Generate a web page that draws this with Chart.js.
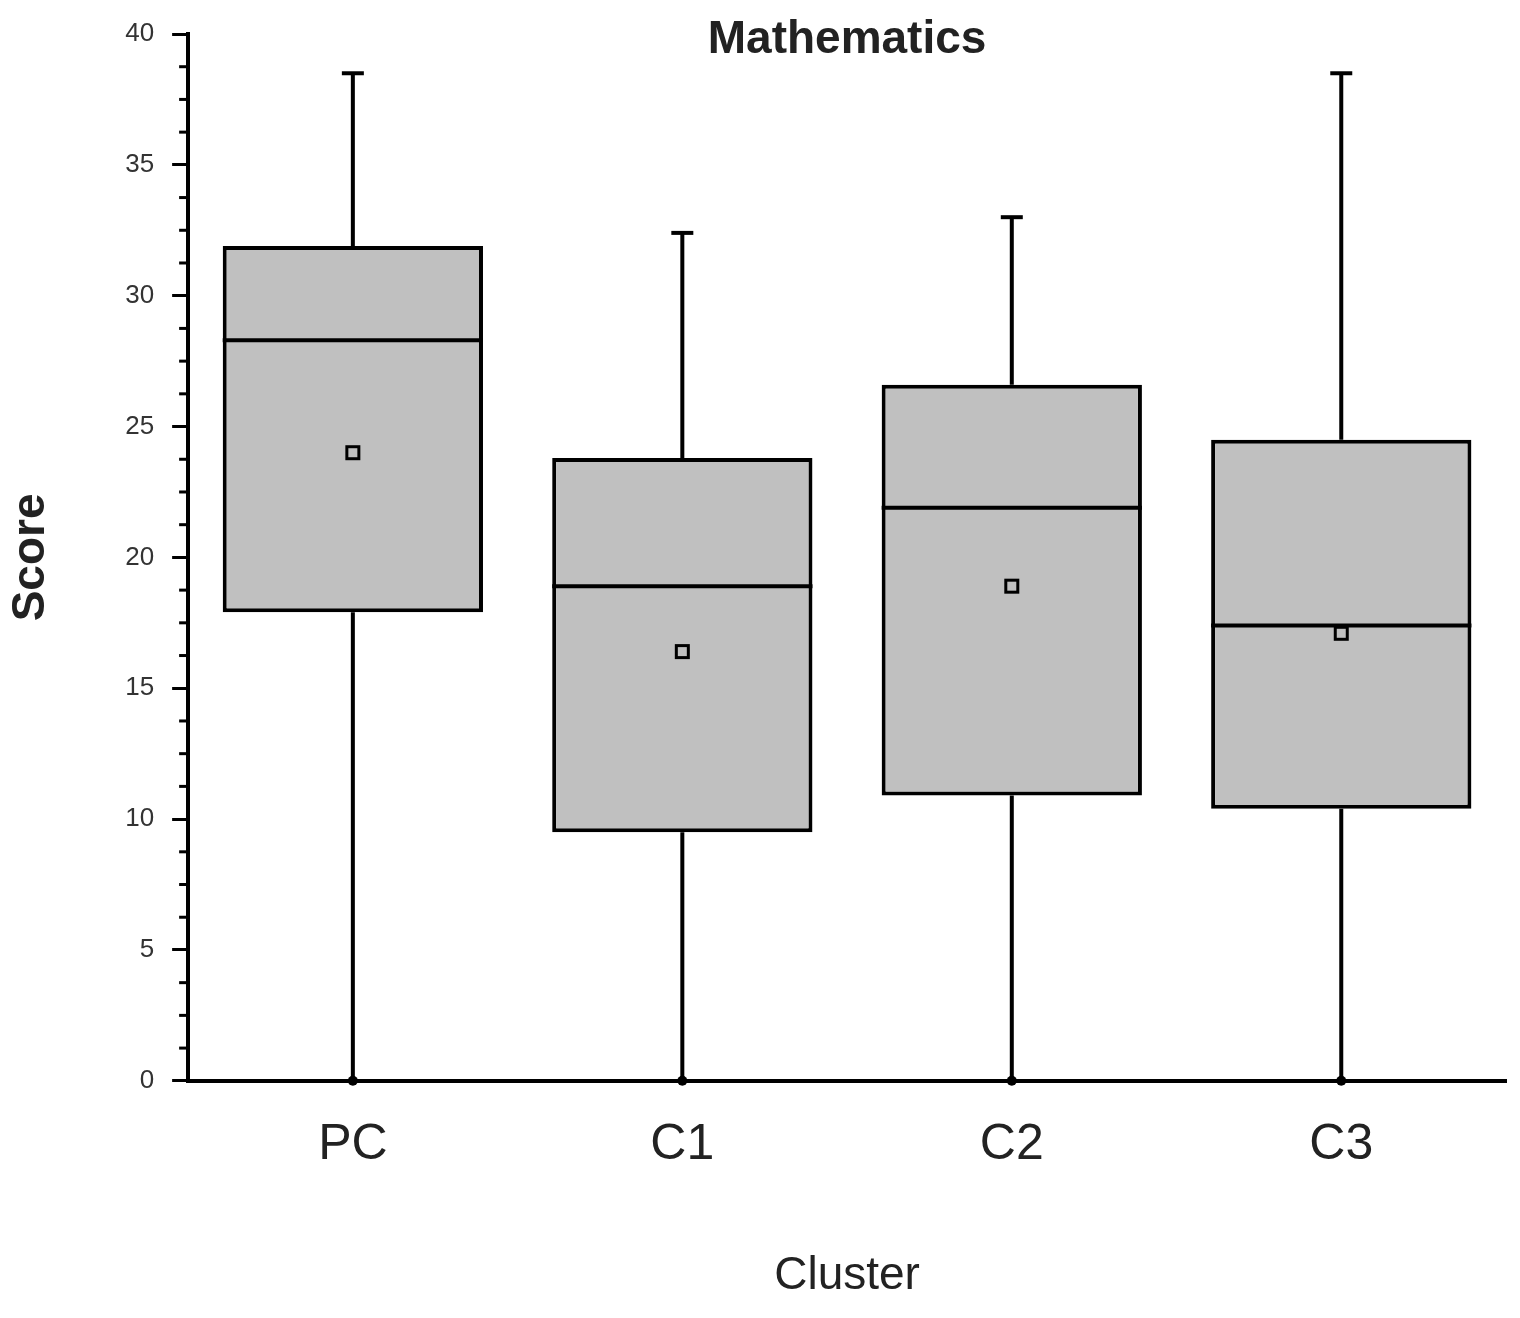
<!DOCTYPE html>
<html>
<head>
<meta charset="utf-8">
<script src="https://cdn.jsdelivr.net/npm/chart.js@4"></script>
<style>
  body { margin: 0; background: #fff; }
  #wrap { width: 1520px; height: 1318px; }
</style>
</head>
<body>
<div id="wrap"><canvas id="boxChart" width="1520" height="1318"></canvas></div>
<script>
const clusters = ['PC', 'C1', 'C2', 'C3'];
const mins    = [0, 0, 0, 0];
const q1s     = [17.9, 9.5, 10.9, 10.4];
const medians = [28.3, 18.9, 21.9, 17.4];
const q3s     = [31.9, 23.8, 26.6, 24.5];
const maxs    = [38.5, 32.4, 33.0, 38.5];
const means   = [24.0, 16.4, 18.9, 17.1];
const chartTitle = 'Mathematics';

// whiskers, medians, means, minor ticks and the title over the plot area
const boxExtras = {
  id: 'boxExtras',
  beforeDatasetsDraw(chart) {
    const { ctx, scales: { x, y } } = chart;
    ctx.save();
    ctx.strokeStyle = '#000';
    ctx.lineWidth = 4;
    clusters.forEach((c, i) => {
      const cx = x.getPixelForValue(i);
      ctx.beginPath();
      ctx.moveTo(cx, y.getPixelForValue(mins[i]));
      ctx.lineTo(cx, y.getPixelForValue(q1s[i]));
      ctx.moveTo(cx, y.getPixelForValue(q3s[i]));
      ctx.lineTo(cx, y.getPixelForValue(maxs[i]));
      ctx.stroke();
    });
    ctx.restore();
  },
  afterDatasetsDraw(chart) {
    const { ctx, chartArea, scales: { x, y } } = chart;
    const meta = chart.getDatasetMeta(0);
    ctx.save();
    ctx.strokeStyle = '#000';
    ctx.fillStyle = '#000';
    clusters.forEach((c, i) => {
      const cx = x.getPixelForValue(i);
      const half = meta.data[i].width / 2;
      ctx.lineWidth = 4;
      ctx.beginPath();
      const my = y.getPixelForValue(medians[i]);
      ctx.moveTo(cx - half, my);
      ctx.lineTo(cx + half, my);
      ctx.stroke();
      const ty = y.getPixelForValue(maxs[i]);
      ctx.beginPath();
      ctx.moveTo(cx - 11, ty);
      ctx.lineTo(cx + 11, ty);
      ctx.stroke();
      ctx.beginPath();
      ctx.arc(cx, y.getPixelForValue(mins[i]), 5, 0, Math.PI * 2);
      ctx.fill();
      const ey = y.getPixelForValue(means[i]);
      ctx.lineWidth = 3;
      ctx.strokeRect(cx - 6, ey - 6, 12, 12);
    });
    ctx.lineWidth = 3;
    for (let v = 0; v <= 40; v += 1.25) {
      if (v % 5 === 0) continue;
      const py = y.getPixelForValue(v);
      ctx.beginPath();
      ctx.moveTo(chartArea.left - 9, py);
      ctx.lineTo(chartArea.left, py);
      ctx.stroke();
    }
    ctx.fillStyle = '#222';
    ctx.font = 'bold 46px "Liberation Sans"';
    ctx.textAlign = 'center';
    ctx.textBaseline = 'middle';
    ctx.fillText(chartTitle, (chartArea.left + chartArea.right) / 2, 40);
    ctx.restore();
  }
};

new Chart(document.getElementById('boxChart'), {
  type: 'bar',
  data: {
    labels: clusters,
    datasets: [{
      data: clusters.map((c, i) => [q1s[i], q3s[i]]),
      backgroundColor: '#c0c0c0',
      borderColor: '#000',
      borderWidth: 4,
      borderSkipped: false,
      categoryPercentage: 0.79,
      barPercentage: 1
    }]
  },
  options: {
    responsive: false,
    animation: false,
    layout: { padding: { top: 34, right: 14, left: 0, bottom: 10 } },
    plugins: {
      legend: { display: false },
      tooltip: { enabled: false }
    },
    scales: {
      x: {
        grid: { display: false, drawTicks: false },
        border: { color: '#000', width: 4 },
        ticks: { color: '#222', padding: 34, font: { family: 'Liberation Sans', size: 50 } },
        title: {
          display: true, text: 'Cluster', color: '#222',
          font: { family: 'Liberation Sans', size: 46 },
          padding: { top: 40 }
        }
      },
      y: {
        min: 0, max: 40,
        grid: { drawOnChartArea: false, color: '#000', lineWidth: 3, tickLength: 16 },
        border: { color: '#000', width: 4 },
        ticks: { stepSize: 5, color: '#333', padding: 18, font: { family: 'Liberation Sans', size: 26 } },
        title: {
          display: true, text: 'Score', color: '#222',
          font: { family: 'Liberation Sans', size: 46, weight: 'bold' },
          padding: { bottom: 48 }
        }
      }
    }
  },
  plugins: [boxExtras]
});
</script>
</body>
</html>
